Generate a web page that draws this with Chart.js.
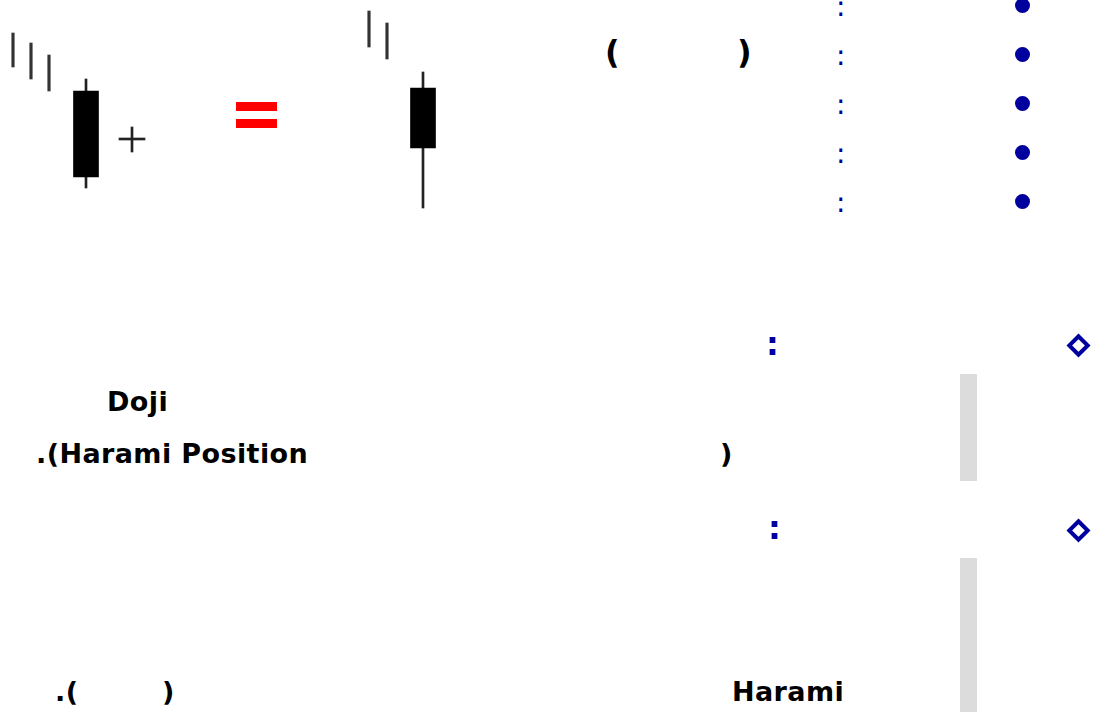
<!DOCTYPE html>
<html>
<head>
<meta charset="utf-8">
<script src="https://cdn.jsdelivr.net/npm/chart.js@4.4.1/dist/chart.umd.min.js"></script>
<style>
  html, body { margin: 0; padding: 0; background: #fff; }
  body { width: 1108px; height: 712px; position: relative; overflow: hidden; font-family: "DejaVu Sans", sans-serif; }
  #candles { position: absolute; left: 0; top: 0; width: 460px; height: 220px; }
  .t { position: absolute; line-height: 1; white-space: pre; }
  .bold { font-weight: bold; font-size: 27px; letter-spacing: 0.4px; color: #000; }
  .paren { font-size: 32px; font-weight: bold; color: #000; }
  .colon { font-size: 28px; color: #00009f; }
  .colon-b { font-size: 32px; font-weight: bold; color: #00009f; }
  .dot { position: absolute; width: 15px; height: 15px; border-radius: 50%; background: #00009f; }
  .diamond { position: absolute; width: 17px; height: 17px; box-sizing: border-box; border: 4px solid #00009f; transform: rotate(45deg); }
  .bar { position: absolute; background: #dcdcdc; width: 17px; left: 960px; }
  .eq { position: absolute; background: #ff0000; left: 236px; width: 41px; height: 9px; }
</style>
</head>
<body>
<div id="candles"><canvas id="chart"></canvas></div>

<div class="eq" style="top:102px"></div>
<div class="eq" style="top:119px"></div>

<span class="t paren" style="left:605px; top:36px">(</span>
<span class="t paren" style="left:737px; top:36px">)</span>

<div id="list"></div>

<span class="t colon-b" style="left:766px; top:328px">:</span>
<div class="diamond" style="left:1069.5px; top:336.5px"></div>
<div class="bar" style="top:374px; height:107px"></div>

<span class="t bold" style="left:107px; top:388px">Doji</span>
<span class="t bold" style="left:36px; top:440px">.(Harami Position</span>
<span class="t bold" style="left:720px; top:440px">)</span>

<span class="t colon-b" style="left:768px; top:512px">:</span>
<div class="diamond" style="left:1069.5px; top:521.5px"></div>
<div class="bar" style="top:558px; height:154px"></div>

<span class="t bold" style="left:55px; top:678px">.(</span>
<span class="t bold" style="left:162px; top:678px">)</span>
<span class="t bold" style="left:732px; top:678px">Harami</span>

<script>
// thin "price ticks" leading into each pattern (high / low only)
const SESSION_X = [13, 31, 49, 369, 387];
const SESSION_HIGH = [187, 177, 165, 209, 197];
const SESSION_LOW = [153, 141, 129, 173, 161];

// candles: long black candle, doji (+), resulting combined candle
const CANDLE_X = [86, 132, 423];
const CANDLE_OPEN = [129, 80, 132];
const CANDLE_CLOSE = [43, 80, 72];
const CANDLE_HIGH = [141, 93, 148];
const CANDLE_LOW = [32, 68, 12];

const LIST_ROWS = 5;

function floating(xs, a, b, keep) {
  const out = [];
  xs.forEach((x, i) => {
    if (keep && !keep(i)) return;
    out.push({ x: x, y: [a[i], b[i]] });
  });
  return out;
}

const isDoji = (i) => CANDLE_OPEN[i] === CANDLE_CLOSE[i];

new Chart(document.getElementById('chart'), {
  type: 'bar',
  data: {
    datasets: [
      {
        label: 'body',
        data: floating(CANDLE_X, CANDLE_CLOSE, CANDLE_OPEN, (i) => !isDoji(i)),
        backgroundColor: '#000',
        barThickness: 25,
        grouped: false,
      },
      {
        label: 'doji',
        data: floating(CANDLE_X, CANDLE_CLOSE, CANDLE_OPEN, isDoji),
        backgroundColor: '#222',
        barThickness: 26,
        minBarLength: 2,
        grouped: false,
      },
      {
        label: 'wick',
        data: floating(CANDLE_X, CANDLE_LOW, CANDLE_HIGH),
        backgroundColor: '#222',
        barThickness: 2,
        grouped: false,
      },
      {
        label: 'sessions',
        data: floating(SESSION_X, SESSION_LOW, SESSION_HIGH),
        backgroundColor: '#333',
        barThickness: 2.5,
        grouped: false,
      },
    ],
  },
  options: {
    responsive: true,
    maintainAspectRatio: false,
    animation: false,
    layout: { padding: 0 },
    plugins: {
      legend: { display: false },
      tooltip: { enabled: false },
    },
    scales: {
      x: { type: 'linear', min: 0, max: 460, offset: false, display: false },
      y: { type: 'linear', min: 0, max: 220, display: false },
    },
  },
});

// blue bullet list at the top right
const list = document.getElementById('list');
for (let i = 0; i < LIST_ROWS; i++) {
  const dot = document.createElement('div');
  dot.className = 'dot';
  dot.style.left = '1014.5px';
  dot.style.top = (-2.5 + i * 49) + 'px';
  list.appendChild(dot);

  const c = document.createElement('span');
  c.className = 't colon';
  c.textContent = ':';
  c.style.left = '836px';
  c.style.top = (-7.5 + i * 49) + 'px';
  list.appendChild(c);
}
</script>
</body>
</html>
